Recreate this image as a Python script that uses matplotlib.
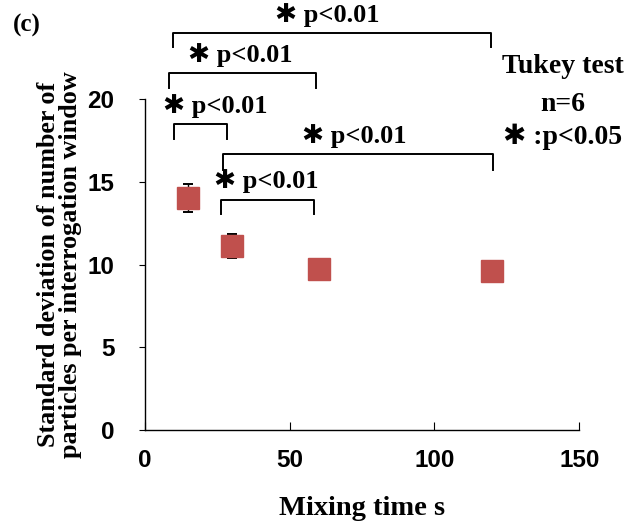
import matplotlib
matplotlib.use("Agg")
import matplotlib.pyplot as plt

# mixing time (s) vs std of particle count per interrogation window
mixing_time = [15, 30, 60, 120]
std_particles = [14.0, 11.1, 9.75, 9.6]
std_error = [0.85, 0.72, 0.0, 0.0]

# Tukey comparisons: bracket ends, bracket heights, label anchors
bracket_x1 = [9.6, 8.4, 10.0, 26.8, 26.3]
bracket_x2 = [119.5, 59.0, 28.5, 120.2, 58.4]
bracket_y = [24.0, 21.55, 18.5, 16.7, 13.9]
bracket_drop = [0.85, 0.9, 0.9, 1.0, 0.85]
label_x = [62.8, 32.8, 24.4, 72.2, 41.9]
label_y = [25.1, 22.65, 19.6, 17.75, 15.05]
label_text = "\u2731 p<0.01"

SERIF = ["Liberation Serif", "DejaVu Sans"]
SANS = "Liberation Sans"
RED = "#C0504D"

fig = plt.figure(figsize=(6.33, 5.27), dpi=100)
ax = fig.add_axes([0.229, 0.184, 0.686, 0.628])

ax.errorbar(mixing_time, std_particles, yerr=std_error, fmt="none",
            ecolor="black", elinewidth=1.0, capsize=3.5, capthick=1.4, zorder=2)
ax.plot(mixing_time, std_particles, "s", color=RED, markersize=15.5,
        markeredgecolor=RED, zorder=3)

ax.set_xlim(0, 150)
ax.set_ylim(0, 20)
ax.set_xticks([0, 50, 100, 150])
ax.set_yticks([0, 5, 10, 15, 20])
for side in ("top", "right"):
    ax.spines[side].set_visible(False)
for side in ("left", "bottom"):
    ax.spines[side].set_linewidth(1.0)
ax.tick_params(axis="y", direction="out", length=4, pad=18, labelsize=17.5)
ax.tick_params(axis="x", direction="in", length=6, pad=14, labelsize=17.5)
for lab in ax.get_xticklabels() + ax.get_yticklabels():
    lab.set_fontfamily(SANS)
    lab.set_fontweight("bold")

ax.set_xlabel("Mixing time s", fontfamily=SERIF, fontweight="bold",
              fontsize=20.5, labelpad=17)
ax.set_ylabel("Standard deviation of number of\nparticles per interrogation window",
              fontfamily=SERIF, fontweight="bold", fontsize=18.8,
              linespacing=0.92, labelpad=4)

for x1, x2, y, d, lx, ly in zip(bracket_x1, bracket_x2, bracket_y,
                                  bracket_drop, label_x, label_y):
    ax.plot([x1, x1, x2, x2], [y - d, y, y, y - d], color="black",
            lw=1.4, clip_on=False, zorder=4)
    ax.text(lx, ly, label_text, ha="center", va="center", fontsize=19,
            fontfamily=SERIF, fontweight="bold", clip_on=False)

fig.text(0.043, 0.952, "(c)", ha="center", va="center", fontsize=18,
         fontfamily=SERIF, fontweight="bold")
fig.text(0.889, 0.873, "Tukey test", ha="center", va="center", fontsize=20,
         fontfamily=SERIF, fontweight="bold")
fig.text(0.889, 0.801, "n=6", ha="center", va="center", fontsize=20,
         fontfamily=SERIF, fontweight="bold")
fig.text(0.889, 0.740, "\u2731 :p<0.05", ha="center", va="center", fontsize=20,
         fontfamily=SERIF, fontweight="bold")

fig.savefig("out.png", dpi=100)
